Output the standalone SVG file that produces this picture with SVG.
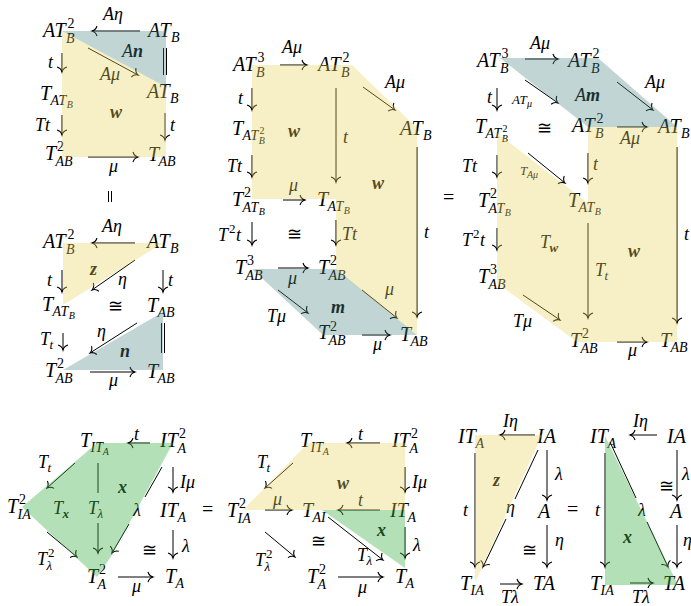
<svg xmlns="http://www.w3.org/2000/svg" width="691" height="606" viewBox="0 0 691 606">
<style>
text{font-family:"Liberation Serif","Times New Roman",serif;font-style:italic;fill:#000}
.n{font-size:20px}.l{font-size:18px}.s{font-size:14px}.s13{font-size:13px}.ss{font-size:10px}
.up{font-style:normal}.bd{font-weight:bold}
.a{stroke:#000;stroke-width:1;fill:none;marker-end:url(#ah)}
.p{stroke:#000;stroke-width:1;fill:none}
.yl{fill:rgb(232,212,92);fill-opacity:.35}
.bl{fill:rgb(75,135,132);fill-opacity:.35}
.gr{fill:rgb(65,177,72);fill-opacity:.4}
</style>
<defs>
<marker id="ah" viewBox="-7 -7 9 14" refX="0" refY="0" markerWidth="9" markerHeight="14" markerUnits="userSpaceOnUse" orient="auto">
<path d="M-5,-5 Q-3.8,-1 0,0 Q-3.8,1 -5,5" fill="none" stroke="#000" stroke-width="1.1"/>
</marker>
</defs>
<rect width="691" height="606" fill="#fff"/>

<g id="connectors">
<line class="a" x1="140" y1="31" x2="92" y2="31"/>
<line class="a" x1="88" y1="48" x2="138" y2="75"/>
<line class="a" x1="62" y1="53" x2="62" y2="72"/>
<line class="a" x1="62" y1="115" x2="62" y2="135"/>
<line class="a" x1="165" y1="113" x2="165" y2="140"/>
<line class="a" x1="88" y1="157" x2="138" y2="157"/>
<line class="p" x1="163.5" y1="48" x2="163.5" y2="75"/><line class="p" x1="166.5" y1="48" x2="166.5" y2="75"/>
<line class="p" x1="108.5" y1="191" x2="108.5" y2="202"/><line class="p" x1="111.5" y1="191" x2="111.5" y2="202"/>
<line class="a" x1="135" y1="243" x2="92" y2="243"/>
<line class="a" x1="135" y1="260" x2="92" y2="290"/>
<line class="a" x1="62" y1="270" x2="62" y2="292"/>
<line class="a" x1="163" y1="270" x2="163" y2="292"/>
<line class="a" x1="137" y1="323" x2="90" y2="353"/>
<line class="p" x1="161.5" y1="323" x2="161.5" y2="353"/><line class="p" x1="164.5" y1="323" x2="164.5" y2="353"/>
<line class="a" x1="63" y1="333" x2="63" y2="350"/>
<line class="a" x1="90" y1="372" x2="135" y2="372"/>

<line class="a" x1="280" y1="65" x2="307" y2="65"/>
<line class="a" x1="363" y1="87" x2="395" y2="110"/>
<line class="a" x1="252" y1="88" x2="252" y2="110"/>
<line class="a" x1="336" y1="88" x2="336" y2="182"/>
<line class="a" x1="252" y1="155" x2="252" y2="177"/>
<line class="a" x1="283" y1="200" x2="305" y2="200"/>
<line class="a" x1="417" y1="147" x2="417" y2="317"/>
<line class="a" x1="252" y1="222" x2="252" y2="245"/>
<line class="a" x1="336" y1="220" x2="336" y2="245"/>
<line class="a" x1="278" y1="268" x2="308" y2="268"/>
<line class="a" x1="362" y1="290" x2="397" y2="318"/>
<line class="a" x1="278" y1="290" x2="308" y2="313"/>
<line class="a" x1="362" y1="335" x2="390" y2="335"/>

<line class="a" x1="525" y1="59" x2="558" y2="59"/>
<line class="a" x1="525" y1="80" x2="558" y2="103"/>
<line class="a" x1="617" y1="82" x2="653" y2="110"/>
<line class="a" x1="497" y1="88" x2="497" y2="110"/>
<line class="a" x1="617" y1="127" x2="647" y2="127"/>
<line class="a" x1="497" y1="155" x2="497" y2="177"/>
<line class="a" x1="528" y1="153" x2="565" y2="183"/>
<line class="a" x1="588" y1="153" x2="588" y2="183"/>
<line class="a" x1="677" y1="147" x2="677" y2="323"/>
<line class="a" x1="497" y1="228" x2="497" y2="250"/>
<line class="a" x1="588" y1="223" x2="588" y2="318"/>
<line class="a" x1="523" y1="295" x2="560" y2="320"/>
<line class="a" x1="617" y1="342" x2="647" y2="342"/>

<line class="a" x1="150" y1="443" x2="128" y2="443"/>
<line class="a" x1="75" y1="463" x2="47" y2="488"/>
<line class="p" x1="98" y1="463" x2="98" y2="493"/>
<line class="a" x1="98" y1="523" x2="98" y2="553"/>
<line class="p" x1="162" y1="467" x2="145" y2="497"/>
<line class="a" x1="129" y1="524" x2="112" y2="553"/>
<line class="a" x1="173" y1="467" x2="173" y2="492"/>
<line class="a" x1="173" y1="530" x2="173" y2="558"/>
<line class="a" x1="47" y1="532" x2="77" y2="557"/>
<line class="a" x1="118" y1="577" x2="153" y2="577"/>

<line class="a" x1="380" y1="443" x2="347" y2="443"/>
<line class="a" x1="293" y1="463" x2="265" y2="488"/>
<line class="a" x1="405" y1="467" x2="405" y2="492"/>
<line class="a" x1="265" y1="510" x2="292" y2="510"/>
<line class="a" x1="380" y1="510" x2="338" y2="510"/>
<line class="a" x1="405" y1="527" x2="405" y2="558"/>
<line class="a" x1="328" y1="517" x2="383" y2="560"/>
<line class="a" x1="265" y1="532" x2="295" y2="557"/>
<line class="a" x1="338" y1="577" x2="383" y2="577"/>

<line class="a" x1="535" y1="435" x2="500" y2="435"/>
<line class="a" x1="475" y1="453" x2="475" y2="567"/>
<line class="p" x1="538" y1="450" x2="515" y2="499"/>
<line class="a" x1="506" y1="519" x2="483" y2="567"/>
<line class="a" x1="547" y1="450" x2="547" y2="500"/>
<line class="a" x1="547" y1="525" x2="547" y2="567"/>
<line class="a" x1="500" y1="584" x2="522" y2="584"/>

<line class="a" x1="657" y1="435" x2="630" y2="435"/>
<line class="a" x1="605" y1="453" x2="605" y2="567"/>
<line class="p" x1="610" y1="442" x2="636" y2="498"/>
<line class="a" x1="647" y1="522" x2="668" y2="567"/>
<line class="a" x1="677" y1="450" x2="677" y2="500"/>
<line class="a" x1="677" y1="525" x2="677" y2="567"/>
<line class="a" x1="630" y1="583" x2="653" y2="583"/>
</g>

<g id="labels" class="l">
<text class="l" x="103" y="20">Aη</text>
<text class="l" x="122" y="57">A<tspan class="bd">n</tspan></text>
<text class="l" x="100" y="80">Aμ</text>
<text class="l" x="48" y="68">t</text>
<text class="l bd" x="110" y="118">w</text>
<text class="l" x="35" y="131">Tt</text>
<text class="l" x="170" y="131">t</text>
<text class="l" x="109" y="172">μ</text>

<text class="l" x="102" y="232">Aη</text>
<text class="l bd" x="90" y="275">z</text>
<text class="l" x="118" y="285">η</text>
<text class="l" x="47" y="286">t</text>
<text class="l" x="168" y="286">t</text>
<text class="l up" x="108" y="312">≅</text>
<text class="l" x="97" y="337">η</text>
<text class="l bd" x="120" y="357">n</text>
<text class="l" x="40" y="345">T<tspan class="s13" x="49.5" y="349">t</tspan></text>
<text class="l" x="109" y="386">μ</text>

<text class="l" x="282" y="53">Aμ</text>
<text class="l" x="385" y="88">Aμ</text>
<text class="l" x="238" y="104">t</text>
<text class="l bd" x="288" y="137">w</text>
<text class="l" x="343" y="143">t</text>
<text class="l" x="227" y="172">Tt</text>
<text class="l bd" x="372" y="189">w</text>
<text class="l" x="289" y="191">μ</text>
<text class="l" x="218" y="241">T<tspan class="s13 up" x="229" y="233">2</tspan><tspan x="236" y="241">t</tspan></text>
<text class="l up" x="287" y="240">≅</text>
<text class="l" x="342" y="240">Tt</text>
<text class="l" x="424" y="238">t</text>
<text class="l" x="288" y="284">μ</text>
<text class="l" x="385" y="295">μ</text>
<text class="l" x="267" y="322">Tμ</text>
<text class="l bd" x="331" y="313">m</text>
<text class="l" x="373" y="350">μ</text>

<text class="l" x="530" y="49">Aμ</text>
<text class="s13" x="512" y="104">AT<tspan class="ss" x="527" y="107">μ</tspan></text>
<text class="l" x="575" y="101">A<tspan class="bd">m</tspan></text>
<text class="l" x="645" y="88">Aμ</text>
<text class="l" x="487" y="103">t</text>
<text class="l up" x="537" y="134">≅</text>
<text class="l" x="620" y="144">Aμ</text>
<text class="l" x="462" y="172">Tt</text>
<text class="s13" x="520" y="175">T<tspan class="ss" x="527" y="178">Aμ</tspan></text>
<text class="l" x="593" y="170">t</text>
<text class="l" x="462" y="246">T<tspan class="s13 up" x="473" y="238">2</tspan><tspan x="480" y="246">t</tspan></text>
<text class="l" x="540" y="248">T<tspan class="s13 bd" x="549.5" y="252">w</tspan></text>
<text class="l" x="595" y="276">T<tspan class="s13" x="604.5" y="280">t</tspan></text>
<text class="l bd" x="628" y="257">w</text>
<text class="l" x="684" y="240">t</text>
<text class="l" x="513" y="327">Tμ</text>
<text class="l" x="628" y="356">μ</text>

<text class="l" x="134" y="440">t</text>
<text class="l" x="38" y="468">T<tspan class="s13" x="47.5" y="472">t</tspan></text>
<text class="l" x="53" y="514">T<tspan class="s13 bd" x="62.5" y="518">x</tspan></text>
<text class="l" x="88" y="514">T<tspan class="s13" x="97.5" y="518">λ</tspan></text>
<text class="l bd" x="118" y="493">x</text>
<text class="l" x="133" y="516">λ</text>
<text class="l" x="180" y="488">Iμ</text>
<text class="l" x="182" y="552">λ</text>
<text class="l up" x="142" y="556">≅</text>
<text class="l" x="37" y="565">T<tspan class="s13 up" x="48" y="557">2</tspan><tspan class="s13" x="46.5" y="570">λ</tspan></text>
<text class="l" x="132" y="592">μ</text>

<text class="l" x="358" y="440">t</text>
<text class="l" x="257" y="468">T<tspan class="s13" x="266.5" y="472">t</tspan></text>
<text class="l bd" x="337" y="489">w</text>
<text class="l" x="412" y="488">Iμ</text>
<text class="l" x="273" y="505">μ</text>
<text class="l" x="358" y="506">t</text>
<text class="l bd" x="377" y="536">x</text>
<text class="l" x="413" y="551">λ</text>
<text class="l" x="357" y="561">T<tspan class="s13" x="366.5" y="565">λ</tspan></text>
<text class="l up" x="311" y="547">≅</text>
<text class="l" x="255" y="566">T<tspan class="s13 up" x="266" y="558">2</tspan><tspan class="s13" x="264.5" y="571">λ</tspan></text>
<text class="l" x="358" y="593">μ</text>

<text class="l" x="503" y="427">Iη</text>
<text class="l" x="463" y="516">t</text>
<text class="l bd" x="493" y="486">z</text>
<text class="l" x="506" y="513">η</text>
<text class="l" x="555" y="480">λ</text>
<text class="l up" x="522" y="556">≅</text>
<text class="l" x="555" y="546">η</text>
<text class="l" x="501" y="603">Tλ</text>

<text class="l" x="633" y="427">Iη</text>
<text class="l" x="595" y="516">t</text>
<text class="l" x="638" y="516">λ</text>
<text class="l bd" x="623" y="543">x</text>
<text class="l up" x="659" y="492">≅</text>
<text class="l" x="682" y="480">λ</text>
<text class="l" x="683" y="546">η</text>
<text class="l" x="632" y="603">Tλ</text>

<text class="n up" x="443" y="204">=</text>
<text class="n up" x="202" y="516">=</text>
<text class="n up" x="567" y="516">=</text>
</g>

<g id="A1"><text class="n" x="43" y="37">AT<tspan class="s" x="66" y="43">B</tspan><tspan class="s up" x="67.5" y="28">2</tspan></text></g>
<g id="A2"><text class="n" x="148" y="37">AT<tspan class="s" x="171" y="42">B</tspan></text></g>
<g id="A3"><text class="n" x="40" y="100">T<tspan class="s" x="50.5" y="105">AT</tspan><tspan class="ss" x="66.8" y="108">B</tspan></text></g>
<g id="A4"><text class="n" x="147" y="98">AT<tspan class="s" x="170" y="103">B</tspan></text></g>
<g id="A5"><text class="n" x="45" y="160">T<tspan class="s up" x="57" y="151">2</tspan><tspan class="s" x="55.5" y="166">AB</tspan></text></g>
<g id="A6"><text class="n" x="148" y="161">T<tspan class="s" x="158.5" y="166">AB</tspan></text></g>
<g id="A7"><text class="n" x="43" y="248">AT<tspan class="s" x="66" y="254">B</tspan><tspan class="s up" x="67.5" y="239">2</tspan></text></g>
<g id="A8"><text class="n" x="147" y="248">AT<tspan class="s" x="170" y="253">B</tspan></text></g>
<g id="A9"><text class="n" x="42" y="311">T<tspan class="s" x="52.5" y="316">AT</tspan><tspan class="ss" x="68.8" y="319">B</tspan></text></g>
<g id="A10"><text class="n" x="147" y="312">T<tspan class="s" x="157.5" y="317">AB</tspan></text></g>
<g id="A11"><text class="n" x="45" y="377">T<tspan class="s up" x="57" y="368">2</tspan><tspan class="s" x="55.5" y="383">AB</tspan></text></g>
<g id="A12"><text class="n" x="147" y="378">T<tspan class="s" x="157.5" y="383">AB</tspan></text></g>

<g id="B1"><text class="n" x="233" y="71">AT<tspan class="s" x="256" y="77">B</tspan><tspan class="s up" x="257.5" y="62">3</tspan></text></g>
<g id="B2"><text class="n" x="318" y="71">AT<tspan class="s" x="341" y="77">B</tspan><tspan class="s up" x="342.5" y="62">2</tspan></text></g>
<g id="B3"><text class="n" x="232" y="135">T<tspan class="s" x="242.5" y="140">AT</tspan><tspan class="ss up" x="259.5" y="134">2</tspan><tspan class="ss" x="258.8" y="144">B</tspan></text></g>
<g id="B4"><text class="n" x="400" y="135">AT<tspan class="s" x="423" y="140">B</tspan></text></g>
<g id="B5"><text class="n" x="232" y="206">T<tspan class="s up" x="244" y="197">2</tspan><tspan class="s" x="242.5" y="212">AT</tspan><tspan class="ss" x="258.8" y="215">B</tspan></text></g>
<g id="B6"><text class="n" x="317" y="206">T<tspan class="s" x="327.5" y="211">AT</tspan><tspan class="ss" x="343.8" y="214">B</tspan></text></g>
<g id="B7"><text class="n" x="235" y="274">T<tspan class="s up" x="247" y="265">3</tspan><tspan class="s" x="245.5" y="280">AB</tspan></text></g>
<g id="B8"><text class="n" x="318" y="274">T<tspan class="s up" x="330" y="265">2</tspan><tspan class="s" x="328.5" y="280">AB</tspan></text></g>
<g id="B9"><text class="n" x="318" y="339">T<tspan class="s up" x="330" y="331">2</tspan><tspan class="s" x="328.5" y="345">AB</tspan></text></g>
<g id="B10"><text class="n" x="400" y="341">T<tspan class="s" x="410.5" y="346">AB</tspan></text></g>

<g id="C1"><text class="n" x="477" y="67">AT<tspan class="s" x="500" y="73">B</tspan><tspan class="s up" x="501.5" y="58">3</tspan></text></g>
<g id="C2"><text class="n" x="568" y="67">AT<tspan class="s" x="591" y="73">B</tspan><tspan class="s up" x="592.5" y="58">2</tspan></text></g>
<g id="C3"><text class="n" x="475" y="133">T<tspan class="s" x="485.5" y="138">AT</tspan><tspan class="ss up" x="502.5" y="132">2</tspan><tspan class="ss" x="501.8" y="142">B</tspan></text></g>
<g id="C4"><text class="n" x="572" y="132">AT<tspan class="s" x="595" y="138">B</tspan><tspan class="s up" x="596.5" y="123">2</tspan></text></g>
<g id="C5"><text class="n" x="658" y="133">AT<tspan class="s" x="681" y="138">B</tspan></text></g>
<g id="C6"><text class="n" x="478" y="207">T<tspan class="s up" x="490" y="198">2</tspan><tspan class="s" x="488.5" y="213">AT</tspan><tspan class="ss" x="504.8" y="216">B</tspan></text></g>
<g id="C7"><text class="n" x="568" y="207">T<tspan class="s" x="578.5" y="212">AT</tspan><tspan class="ss" x="594.8" y="215">B</tspan></text></g>
<g id="C8"><text class="n" x="478" y="283">T<tspan class="s up" x="490" y="274">3</tspan><tspan class="s" x="488.5" y="289">AB</tspan></text></g>
<g id="C9"><text class="n" x="570" y="347">T<tspan class="s up" x="582" y="338">2</tspan><tspan class="s" x="580.5" y="353">AB</tspan></text></g>
<g id="C10"><text class="n" x="660" y="347">T<tspan class="s" x="670.5" y="352">AB</tspan></text></g>

<g id="D1"><text class="n" x="80" y="447">T<tspan class="s" x="90.5" y="452">IT</tspan><tspan class="ss" x="102.8" y="455">A</tspan></text></g>
<g id="D2"><text class="n" x="160" y="447">IT<tspan class="s up" x="179" y="438">2</tspan><tspan class="s" x="177.5" y="453">A</tspan></text></g>
<g id="D3"><text class="n" x="7" y="513">T<tspan class="s up" x="19" y="504">2</tspan><tspan class="s" x="17.5" y="519">IA</tspan></text></g>
<g id="D4"><text class="n" x="160" y="517">IT<tspan class="s" x="177.5" y="522">A</tspan></text></g>
<g id="D5"><text class="n" x="87" y="583">T<tspan class="s up" x="99" y="574">2</tspan><tspan class="s" x="97.5" y="589">A</tspan></text></g>
<g id="D6"><text class="n" x="165" y="583">T<tspan class="s" x="175.5" y="588">A</tspan></text></g>

<g id="E1"><text class="n" x="300" y="447">T<tspan class="s" x="310.5" y="452">IT</tspan><tspan class="ss" x="322.8" y="455">A</tspan></text></g>
<g id="E2"><text class="n" x="392" y="447">IT<tspan class="s up" x="411" y="438">2</tspan><tspan class="s" x="409.5" y="453">A</tspan></text></g>
<g id="E3"><text class="n" x="227" y="517">T<tspan class="s up" x="239" y="508">2</tspan><tspan class="s" x="237.5" y="523">IA</tspan></text></g>
<g id="E4"><text class="n" x="302" y="517">T<tspan class="s" x="312.5" y="522">AI</tspan></text></g>
<g id="E5"><text class="n" x="390" y="517">IT<tspan class="s" x="407.5" y="522">A</tspan></text></g>
<g id="E6"><text class="n" x="307" y="583">T<tspan class="s up" x="319" y="574">2</tspan><tspan class="s" x="317.5" y="589">A</tspan></text></g>
<g id="E7"><text class="n" x="395" y="583">T<tspan class="s" x="405.5" y="588">A</tspan></text></g>

<g id="F1"><text class="n" x="458" y="443">IT<tspan class="s" x="475.5" y="448">A</tspan></text></g>
<g id="F2"><text class="n" x="537" y="443">IA</text></g>
<g id="F3"><text class="n" x="538" y="518">A</text></g>
<g id="F4"><text class="n" x="460" y="590">T<tspan class="s" x="470.5" y="595">IA</tspan></text></g>
<g id="F5"><text class="n" x="533" y="590">TA</text></g>
<g id="G1"><text class="n" x="590" y="443">IT<tspan class="s" x="607.5" y="448">A</tspan></text></g>
<g id="G2"><text class="n" x="667" y="443">IA</text></g>
<g id="G3"><text class="n" x="670" y="518">A</text></g>
<g id="G4"><text class="n" x="590" y="590">T<tspan class="s" x="600.5" y="595">IA</tspan></text></g>
<g id="G5"><text class="n" x="663" y="590">TA</text></g>

<g id="regions">
<polygon class="bl" points="62,31 166,31 166,87"/>
<polygon class="yl" points="62,31 166,87 166,157 62,157"/>
<polygon class="yl" points="63,243 163,243 63,305"/>
<polygon class="bl" points="163,312 163,370 63,370"/>
<polygon class="yl" points="252,65 352,65 417,128 417,335 336,270 336,199 252,199"/>
<polygon class="bl" points="252,269 336,269 417,335 323,335"/>
<polygon class="bl" points="500,58 598,58 677,127 588,127"/>
<polygon class="yl" points="497,133 588,203 588,127 677,127 677,342 577,342 497,283"/>
<polygon class="gr" points="97,443 173,443 112,555 97,577 22,507"/>
<polygon class="yl" points="308,443 405,443 405,510 243,510"/>
<polygon class="gr" points="322,510 405,510 405,568"/>
<polygon class="yl" points="475,435 542,435 475,583"/>
<polygon class="gr" points="605,436 605,585 678,585"/>
</g>
</svg>
